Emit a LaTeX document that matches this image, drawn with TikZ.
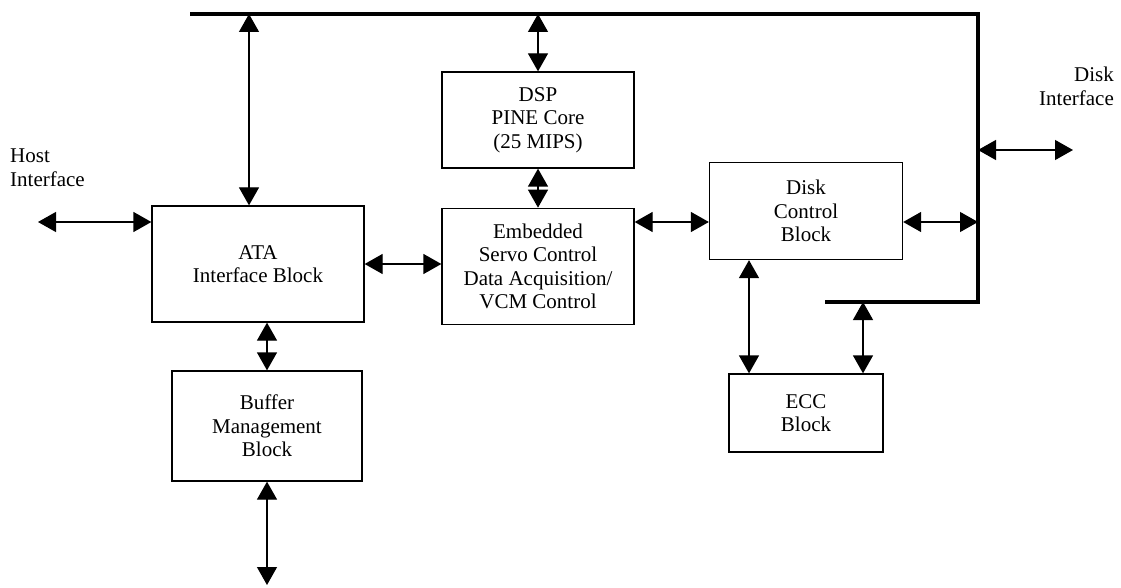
\documentclass[tikz,border=0pt]{standalone}
\usepackage{fontspec}
\setmainfont{Liberation Serif}
\usetikzlibrary{arrows.meta, positioning}

\begin{document}
\begin{tikzpicture}[
  x=1pt, y=-1pt,
  block/.style={rectangle, draw, line width=1.3pt, align=center, inner sep=0pt, font=\fontsize{21}{23.5}\selectfont},
  arrow/.style={{Triangle[length=18pt,width=20pt]}-{Triangle[length=18pt,width=20pt]}, line width=1.3pt},
  bus/.style={line width=3.8pt},
  tag/.style={inner sep=0pt, font=\fontsize{21}{23.5}\selectfont}
]
\useasboundingbox (0,0) rectangle (1121,588);

\node[block, minimum width=212pt, minimum height=116pt] (ata) at (258,264) {ATA\\Interface Block};
\node[block, minimum width=192pt, minimum height=96pt] (dsp) at (538,120) {DSP\\PINE Core\\(25 MIPS)};
\node[block, minimum width=192pt, minimum height=116pt, below=39pt of dsp] (emb) {Embedded\\Servo Control\\Data Acquisition/\\VCM Control};
\node[block, minimum width=193pt, minimum height=97pt] (disk) at (806,211) {Disk\\Control\\Block};
\node[block, minimum width=154pt, minimum height=78pt] (ecc) at (806,413) {ECC\\Block};
\node[block, minimum width=190pt, minimum height=110pt] (buf) at (267,426) {Buffer\\Management\\Block};

\node[tag, align=left, anchor=north west] (host) at (10,149) {Host\\Interface};
\node[tag, align=right, anchor=north east] (diskif) at (1114,67) {Disk\\Interface};

% bus
\coordinate (bus w) at (190,14);
\coordinate (bus ne) at (978,14);
\coordinate (bus se) at (978,302);
\coordinate (bus e) at (825,302);
\draw[bus] (bus w) -- (bus ne) -- (bus se) -- (bus e);

\coordinate (host end) at (38,222);
\coordinate (disk end) at (1073,150);
\coordinate (buf end) at (267,585);
\coordinate (dk) at ([yshift=-11pt]disk.west);

\draw[arrow] (host end) -- (ata.west |- host end);
\draw[arrow] ([xshift=-9pt]ata.north) -- ([xshift=-9pt]ata.north |- bus w);
\draw[arrow] (dsp.north) -- (dsp.north |- bus w);
\draw[arrow] (dsp.south) -- (emb.north);
\draw[arrow] (ata.east) -- (ata.east -| emb.west);
\draw[arrow] (emb.east |- dk) -- (dk);
\draw[arrow] ([yshift=-11pt]disk.east) -- ([yshift=-11pt]disk.east -| bus se);
\draw[arrow] (bus se |- disk end) -- (disk end);
\draw[arrow] ([xshift=-57pt]disk.south) -- ([xshift=-57pt]disk.south |- ecc.north);
\draw[arrow] ([xshift=57pt]ecc.north) -- ([xshift=57pt]ecc.north |- bus e);
\draw[arrow] (ata.south -| buf) -- (buf.north);
\draw[arrow] (buf.south) -- (buf end);

\end{tikzpicture}
\end{document}
